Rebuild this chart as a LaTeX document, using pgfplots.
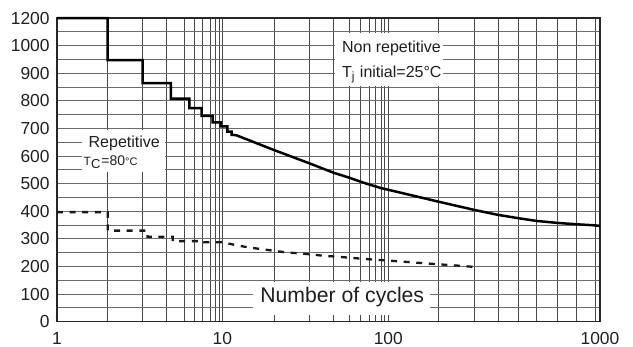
\documentclass[border=0pt]{standalone}
\usepackage{fontspec}
\setmainfont{Liberation Sans}
\usepackage{pgfplots}
\pgfplotsset{compat=1.18}
\newcommand\xmapexpr[1]{50.7*min(max(#1-1,0),1)+35*min(max(#1-2,0),1)+24*min(max(#1-3,0),1)+17.6*min(max(#1-4,0),1)+10*min(max(#1-5,0),1)+8.4*min(max(#1-6,0),1)+7.3*min(max(#1-7,0),1)+5.7*min(max(#1-8,0),1)+6.6*min(max(#1-9,0),1)+5.17*min(max(#1-10,0),10)+3.53*min(max(#1-20,0),10)+2.4*min(max(#1-30,0),10)+1.57*min(max(#1-40,0),10)+1.17*min(max(#1-50,0),10)+0.86*min(max(#1-60,0),10)+0.64*min(max(#1-70,0),10)+0.53*min(max(#1-80,0),10)+0.73*min(max(#1-90,0),10)+0.5*min(max(#1-100,0),100)+0.36*min(max(#1-200,0),100)+0.237*min(max(#1-300,0),100)+0.203*min(max(#1-400,0),100)+0.184*min(max(#1-500,0),100)+0.203*min(max(#1-600,0),100)+0.195*min(max(#1-700,0),100)+0.185*min(max(#1-800,0),100)+0.05*min(max(#1-900,0),100)}
\begin{document}
\begin{tikzpicture}
\useasboundingbox (-28.5pt,-12.65pt) rectangle (288pt,160.85pt);
\begin{axis}[
  scale only axis,
  width=271.5pt, height=151.8pt,
  at={(0,0)}, anchor=south west,
  x coord trafo/.code={\pgfmathparse{\xmapexpr{#1}}},
  y coord trafo/.code={\pgfmathparse{min(#1,1000)+max(#1-1000,0)/2}},
  xmin=1, xmax=1000, ymin=0, ymax=1200,
  xtick={1,10,100,1000}, xticklabels={1,10,100,1000},
  minor xtick={2,3,4,5,6,7,8,9,9.5,20,30,40,50,60,70,80,90,95,200,300,400,500,600,700,800,900},
  ytick={0,100,200,300,400,500,600,700,800,900,1000,1200},
  yticklabels={0,100,200,300,400,500,600,700,800,900,1000,1200},
  minor ytick={50,150,250,350,450,550,650,750,850,950,1100},
  grid=both,
  major x grid style={black!72, line width=0.45pt},
  minor x grid style={black!72, line width=0.45pt},
  major y grid style={black!58, line width=0.45pt},
  minor y grid style={black!58, line width=0.45pt},
  major tick length=0pt, minor tick length=0pt,
  tick style={draw=none},
  axis line style={black!85, line width=0.6pt},
  /pgf/number format/assume math mode=true,
  tick label style={font=\fontsize{8.7}{9}\selectfont, text=black!88},
  xticklabel style={inner sep=0pt, anchor=north, yshift=-5pt},
  yticklabel style={inner sep=0pt, anchor=east, xshift=-3.5pt},
  clip=false,
]
% white label boxes
\fill[white] (rel axis cs:0.512,0.7764) rectangle (rel axis cs:0.710,0.9493);
\fill[white] (rel axis cs:0.0455,0.4931) rectangle (rel axis cs:0.1998,0.6298);
\fill[white] (rel axis cs:0.3615,0.0204) rectangle (rel axis cs:0.6878,0.1308);

% Non repetitive, Tj initial = 25 C
\addplot[black, line width=1.25pt, line join=miter] coordinates {
(1,1200) (2,1200) (2,948) (3,948) (3,864) (4.24,864) (4.24,808) (5.5,808) (5.5,774)
(6.88,774) (6.88,746) (8.44,746) (8.44,722) (9.8,722) (9.8,708) (10.97,708) (10.97,689)
(11.8,689) (11.8,677) (12.65,676) (20,622) (30,574) (40,540) (50,522) (60,507) (70,497)
(80,490) (90,484) (100,478) (200,435) (300,405) (400,387) (500,375) (600,365) (700,358)
(800,353) (900,349) (1000,347)};

% Repetitive, Tc = 80 C
\addplot[black!90, line width=1.15pt, dash pattern=on 3pt off 3.3pt] coordinates {
(1,397) (2,397) (2,330) (3.2,330) (3.2,308) (4.34,308) (4.34,292) (7.2,292) (7.2,288)
(10,288) (12.5,278) (14.8,270) (17.3,263.5) (20,257) (23.4,251) (26.9,248) (30.3,244)
(35.8,239) (42.2,235.6) (50,232) (60,228.5) (80,224.5) (100,221.5) (150,214.7)
(200,208) (250,203.5) (300,198.5)};

\node[anchor=base west, inner sep=0pt, text=black!88, font=\fontsize{8}{9}\selectfont] at (rel axis cs:0.5243,0.8873) {Non repetitive};
\node[anchor=base west, inner sep=0pt, text=black!88, font=\fontsize{8}{9}\selectfont] at (rel axis cs:0.5243,0.805) {T\textsubscript{j} initial=25°C};
\node[anchor=base west, inner sep=0pt, text=black!88, font=\fontsize{8}{9}\selectfont] at (rel axis cs:0.0576,0.5731) {Repetitive};
\node[anchor=base west, inner sep=0pt, text=black!88] at (rel axis cs:0.0484,0.5138) {{\fontsize{6}{7}\selectfont T}\textsubscript{\fontsize{6.5}{7}\selectfont C}{\fontsize{7}{8}\selectfont =80}{\fontsize{5.5}{7}\selectfont °C}};
\node[anchor=base west, inner sep=0pt, text=black!88, font=\fontsize{10.6}{12}\selectfont] at (rel axis cs:0.3738,0.0626) {Number of cycles};
\end{axis}
\end{tikzpicture}
\end{document}
